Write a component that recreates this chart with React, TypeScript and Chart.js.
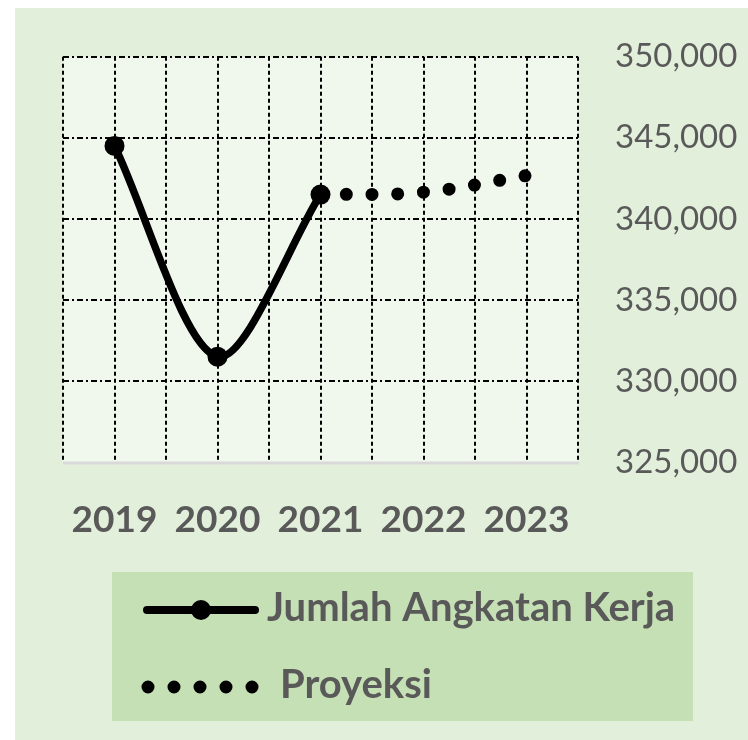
import React, { useEffect, useRef } from 'react';
import { Chart, registerables } from 'chart.js';

Chart.register(...registerables);

// ---- data ----
const years = [2019, 2020, 2021];
const workforce = [344500, 331500, 341500];
const projectionYears = [2021, 2022, 2023];
const projection = [341500, 341650, 342670];
const yMin = 325000;
const yMax = 350000;
const yStep = 5000;
const xMin = 2018.5;
const xMax = 2023.5;
const legendLabels = ['Jumlah Angkatan Kerja', 'Proyeksi'];

// ---- layout ----
const W = 748;
const H = 740;
const AREA = { left: 63, top: 53, right: 578, bottom: 462 };
const TEXT = '#595959';
const DOT_GAP = 25.75;

const decorPlugin = {
  id: 'decor',
  beforeDraw(chart: any) {
    const { ctx, chartArea: a } = chart;
    ctx.save();
    ctx.fillStyle = '#ffffff';
    ctx.fillRect(0, 0, W, H);
    ctx.fillStyle = '#E2EFDA';
    ctx.fillRect(15, 8, W - 15, H - 8);
    ctx.fillStyle = '#F0F7EC';
    ctx.fillRect(a.left, a.top, a.right - a.left, a.bottom - a.top);
    ctx.restore();
  },
  beforeDatasetsDraw(chart: any) {
    const { ctx, chartArea: a } = chart;
    ctx.save();
    ctx.strokeStyle = '#D9D9D9';
    ctx.lineWidth = 3;
    ctx.beginPath();
    ctx.moveTo(a.left, a.bottom + 1);
    ctx.lineTo(a.right + 1, a.bottom + 1);
    ctx.stroke();
    ctx.restore();
  },
  afterDraw(chart: any) {
    const { ctx } = chart;
    ctx.save();
    // legend box
    ctx.fillStyle = '#C5E0B4';
    ctx.fillRect(112, 572, 581, 149);
    // item 1: line with marker
    ctx.strokeStyle = '#000';
    ctx.fillStyle = '#000';
    ctx.lineWidth = 8;
    ctx.lineCap = 'round';
    ctx.beginPath();
    ctx.moveTo(147, 610);
    ctx.lineTo(255, 610);
    ctx.stroke();
    ctx.beginPath();
    ctx.arc(201, 610, 10, 0, Math.PI * 2);
    ctx.fill();
    // item 2: dots
    ctx.lineWidth = 13;
    ctx.setLineDash([0, 26]);
    ctx.beginPath();
    ctx.moveTo(148, 687);
    ctx.lineTo(256, 687);
    ctx.stroke();
    ctx.setLineDash([]);
    // texts
    ctx.fillStyle = TEXT;
    ctx.font = 'bold 40px Lato';
    ctx.textBaseline = 'alphabetic';
    ctx.textAlign = 'left';
    ctx.fillText(legendLabels[0], 267, 621);
    ctx.fillText(legendLabels[1], 280, 698);
    ctx.restore();
  },
};

export default function App() {
  const ref = useRef<HTMLCanvasElement>(null);

  useEffect(() => {
    document.body.style.margin = '0';
    let chart: Chart | null = null;
    let cancelled = false;
    const fonts: any = (document as any).fonts;
    const ready = fonts
      ? Promise.all([fonts.load('33px Lato'), fonts.load('bold 36px Lato')]).catch(() => null)
      : Promise.resolve(null);
    ready.then(() => {
      if (cancelled || !ref.current) return;
      chart = new Chart(ref.current, {
        type: 'line',
        data: {
          datasets: [
            {
              label: legendLabels[0],
              data: years.map((x, i) => ({ x, y: workforce[i] })),
              borderColor: '#000',
              backgroundColor: '#000',
              borderWidth: 7.5,
              pointRadius: 10,
              pointBackgroundColor: '#000',
              pointBorderWidth: 0,
              tension: 0.3,
              fill: false,
            },
            {
              label: legendLabels[1],
              data: projectionYears.map((x, i) => ({ x, y: projection[i] })),
              borderColor: '#000',
              borderWidth: 13,
              borderDash: [0, DOT_GAP],
              borderCapStyle: 'round',
              pointRadius: 0,
              tension: 0.4,
              fill: false,
            },
          ],
        },
        options: {
          responsive: false,
          animation: false,
          events: [],
          layout: { padding: { left: AREA.left, top: AREA.top, right: 0, bottom: 0 } },
          plugins: { legend: { display: false }, tooltip: { enabled: false } },
          scales: {
            x: {
              type: 'linear',
              min: xMin,
              max: xMax,
              afterFit: (s: any) => {
                s.height = H - AREA.bottom;
              },
              ticks: {
                stepSize: 0.5,
                autoSkip: false,
                maxRotation: 0,
                minRotation: 0,
                padding: 36,
                color: TEXT,
                font: { family: 'Lato', size: 37, weight: 'bold' },
                callback: (v: any) => (Number.isInteger(Number(v)) ? String(v) : ''),
              },
              grid: { color: '#000', lineWidth: 2, drawTicks: false },
              border: { display: false, dash: [4, 3] },
            },
            y: {
              position: 'right',
              min: yMin,
              max: yMax,
              afterFit: (s: any) => {
                s.width = W - AREA.right;
              },
              ticks: {
                stepSize: yStep,
                padding: 37,
                color: TEXT,
                font: { family: 'Lato', size: 33 },
                callback: (v: any) => Number(v).toLocaleString('en-US'),
              },
              grid: {
                color: (c: any) => (c.tick && c.tick.value === yMin ? 'rgba(0,0,0,0)' : '#000'),
                lineWidth: 2,
                drawTicks: false,
              },
              border: { display: false, dash: [6, 3, 2, 3] },
            },
          },
        },
        plugins: [decorPlugin],
      } as any);
    });
    return () => {
      cancelled = true;
      if (chart) chart.destroy();
    };
  }, []);

  return (
    <div style={{ position: 'absolute', left: 0, top: 0, width: W, height: H }}>
      <canvas ref={ref} width={W} height={H} style={{ display: 'block', width: W, height: H }} />
    </div>
  );
}
